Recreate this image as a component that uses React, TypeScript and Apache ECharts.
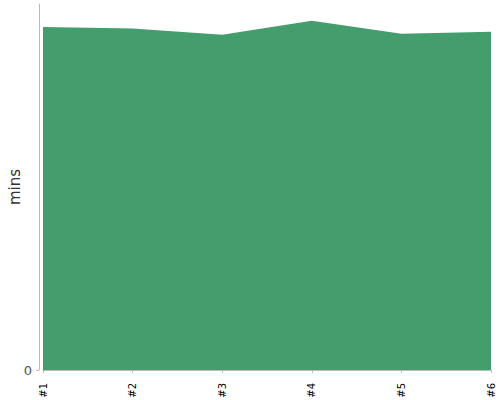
import React, { useEffect, useRef } from 'react';
import * as echarts from 'echarts';

const categories = ['#1', '#2', '#3', '#4', '#5', '#6'];
const minutes = [93.7, 93.3, 91.6, 95.4, 91.9, 92.4];
const yMax = 100;

const App: React.FC = () => {
    const chartRef = useRef<HTMLDivElement>(null);

    useEffect(() => {
        if (!chartRef.current) return;
        document.body.style.margin = '0';
        const chart = echarts.init(chartRef.current, undefined, { renderer: 'svg' });

        chart.setOption({
            animation: false,
            grid: { left: 43, right: 9, top: 4, bottom: 30, containLabel: false, outerBoundsMode: 'none' },
            xAxis: {
                type: 'category',
                data: categories,
                boundaryGap: false,
                offset: 5,
                axisLine: { lineStyle: { color: '#bbb' } },
                axisTick: { length: 3, lineStyle: { color: '#bbb' } },
                axisLabel: {
                    rotate: 90,
                    color: '#000',
                    fontSize: 10,
                    fontFamily: 'DejaVu Sans',
                    margin: 8,
                    interval: 0,
                },
            },
            yAxis: {
                type: 'value',
                min: 0,
                max: yMax,
                interval: yMax,
                offset: 4,
                name: 'mins',
                nameLocation: 'middle',
                nameGap: 17,
                nameMoveOverlap: false,
                nameTextStyle: { fontSize: 15, color: '#333', fontFamily: 'DejaVu Sans' },
                splitLine: { show: false },
                axisLine: { show: true, lineStyle: { color: '#bbb' } },
                axisTick: { show: true, length: 3, lineStyle: { color: '#bbb' } },
                axisLabel: {
                    color: '#555',
                    fontSize: 13,
                    fontFamily: 'DejaVu Sans',
                    margin: 7,
                    showMaxLabel: false,
                    formatter: (v: number) => (v === 0 ? '0' : ''),
                },
            },
            series: [
                {
                    type: 'line',
                    data: minutes,
                    symbol: 'none',
                    lineStyle: { width: 0 },
                    areaStyle: { color: '#449d6d', opacity: 1 },
                },
            ],
        });

        return () => {
            chart.dispose();
        };
    }, []);

    return <div ref={chartRef} style={{ width: 500, height: 400 }} />;
};

export default App;
